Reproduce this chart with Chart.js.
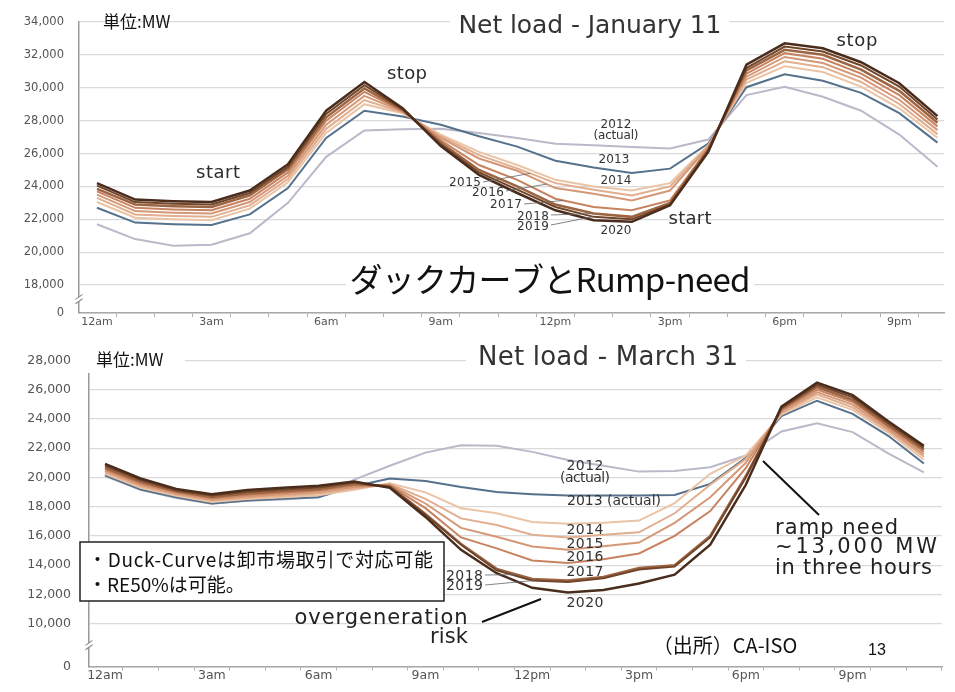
<!DOCTYPE html>
<html lang="ja">
<head>
<meta charset="utf-8">
<title>Net load</title>
<script src="https://cdn.jsdelivr.net/npm/chart.js@4.4.1/dist/chart.umd.min.js"></script>
<style>
  body { margin: 0; background: #fff; }
  #pagina { position: relative; width: 955px; height: 692px; overflow: hidden; }
  #pagina canvas { position: absolute; left: 0; }
  #graficoJan { top: 0; }
  #graficoMar { top: 335px; }
</style>
</head>
<body>
<div id="pagina">
  <canvas id="graficoJan" width="955" height="335"></canvas>
  <canvas id="graficoMar" width="955" height="357"></canvas>
</div>
<script>
const anos = ['2012', '2013', '2014', '2015', '2016', '2017', '2018', '2019', '2020'];
const coresAnos = ['#bab8c9', '#55718b', '#ebc4a6', '#e1ae8f', '#d59877', '#c7835f', '#9d6442', '#704529', '#4a2c1c'];
const larguras = [2, 2, 2, 2, 2, 2, 2.5, 2, 2.5];
const rotulosHoras = ['12am', '3am', '6am', '9am', '12pm', '3pm', '6pm', '9pm'];

const ticksJan = [0, 18000, 20000, 22000, 24000, 26000, 28000, 30000, 32000, 34000];
const ticksMar = [0, 10000, 12000, 14000, 16000, 18000, 20000, 22000, 24000, 26000, 28000];
// onde o "0" fica depois da quebra do eixo
const quebraJan = 16300;
const quebraMar = 7070;

// Net load - January 11 (12am .. 10pm)
const jan2012 = [21700, 20800, 20400, 20450, 21150, 23000, 25800, 27400, 27480, 27500, 27250, 26950, 26600, 26500, 26400, 26300, 26850, 29550, 30050, 29450, 28600, 27150, 25200];
const jan2013 = [22700, 21800, 21700, 21650, 22300, 23900, 26950, 28600, 28250, 27750, 27050, 26420, 25560, 25150, 24820, 25080, 26600, 30030, 30810, 30420, 29690, 28450, 26660];
const jan2014 = [23050, 22100, 22000, 21950, 22650, 24250, 27250, 29000, 28450, 27150, 26100, 25300, 24400, 24000, 23750, 24200, 26500, 30300, 31300, 30950, 30070, 28750, 26960];
const jan2015 = [23300, 22300, 22200, 22150, 22850, 24450, 27500, 29250, 28500, 27050, 25900, 25100, 24200, 23800, 23450, 24000, 26450, 30500, 31600, 31250, 30350, 29010, 27180];
const jan2016 = [23500, 22500, 22400, 22350, 23050, 24650, 27750, 29500, 28550, 26950, 25700, 24950, 23900, 23550, 23150, 23750, 26400, 30670, 31870, 31500, 30610, 29270, 27420];
const jan2017 = [23700, 22700, 22600, 22550, 23250, 24850, 28000, 29750, 28600, 26800, 25300, 24400, 23250, 22750, 22550, 23150, 26300, 30850, 32100, 31760, 30860, 29550, 27650];
const jan2018 = [23850, 22900, 22800, 22750, 23450, 25050, 28200, 29950, 28650, 26650, 25000, 24000, 22900, 22350, 22150, 23000, 26250, 31050, 32300, 32000, 31100, 29810, 27870];
const jan2019 = [24050, 23050, 22950, 22900, 23600, 25200, 28400, 30150, 28700, 26550, 24850, 23800, 22750, 22150, 22000, 22900, 26150, 31200, 32500, 32200, 31350, 30070, 28070];
const jan2020 = [24200, 23200, 23100, 23050, 23750, 25350, 28600, 30350, 28750, 26450, 24700, 23600, 22550, 21950, 21850, 22850, 26100, 31400, 32700, 32400, 31550, 30270, 28270];

// Net load - March 31 (12am .. 11pm)
const mar2012 = [20100, 19150, 18600, 18200, 18400, 18500, 18650, 19850, 20800, 21700, 22200, 22170, 21750, 21200, 20800, 20400, 20450, 20700, 21500, 23150, 23700, 23100, 21650, 20350];
const mar2013 = [20150, 19180, 18650, 18220, 18430, 18540, 18650, 19400, 19930, 19760, 19350, 19010, 18860, 18760, 18760, 18760, 18800, 19560, 21350, 24200, 25250, 24350, 22850, 20950];
const mar2014 = [20250, 19300, 18750, 18330, 18530, 18650, 18780, 19150, 19600, 18980, 17900, 17550, 16950, 16830, 16900, 17050, 18250, 20250, 21500, 24300, 25480, 24620, 23070, 21210];
const mar2015 = [20350, 19400, 18830, 18420, 18620, 18750, 18900, 19250, 19550, 18540, 17200, 16750, 16080, 15900, 16080, 16250, 17550, 19500, 21250, 24400, 25690, 24790, 23200, 21420];
const mar2016 = [20450, 19500, 18900, 18500, 18700, 18850, 19000, 19350, 19500, 18220, 16550, 15950, 15280, 15050, 15300, 15550, 16900, 18650, 21000, 24500, 25840, 24980, 23320, 21570];
const mar2017 = [20550, 19600, 18980, 18580, 18800, 18950, 19100, 19450, 19450, 17900, 15900, 15150, 14320, 14150, 14400, 14800, 16000, 17700, 20650, 24600, 26010, 25160, 23450, 21740];
const mar2018 = [20650, 19700, 19050, 18670, 18900, 19050, 19200, 19550, 19400, 17500, 15450, 13750, 13050, 12950, 13200, 13800, 14000, 16000, 20100, 24700, 26190, 25310, 23580, 21890];
const mar2019 = [20800, 19820, 19130, 18760, 19020, 19170, 19320, 19650, 19350, 17450, 15400, 13650, 12950, 12850, 13100, 13700, 13900, 15900, 20000, 24750, 26330, 25480, 23710, 22040];
const mar2020 = [20930, 19930, 19220, 18860, 19140, 19290, 19430, 19720, 19290, 17300, 15050, 13450, 12450, 12130, 12300, 12750, 13350, 15400, 19500, 24850, 26480, 25630, 23840, 22170];

const seriesJan = [jan2012, jan2013, jan2014, jan2015, jan2016, jan2017, jan2018, jan2019, jan2020];
const seriesMar = [mar2012, mar2013, mar2014, mar2015, mar2016, mar2017, mar2018, mar2019, mar2020];

function escrever(ctx, txt, x, y, o) {
    ctx.save();
    ctx.font = `${o.peso || 'normal'} ${o.tam}px ${o.fonte || '"DejaVu Sans"'}`;
    ctx.fillStyle = o.cor || '#2b2b2b';
    ctx.textAlign = o.al || 'left';
    ctx.textBaseline = 'middle';
    if (o.larg) {
        const sobra = o.larg - ctx.measureText(txt).width;
        const esp = sobra / Math.max(txt.length - 1, 1);
        ctx.letterSpacing = esp + 'px';
        if (ctx.textAlign === 'center') x += esp / 2;
        if (ctx.textAlign === 'right') x += esp;
    }
    ctx.fillText(txt, x, y);
    ctx.restore();
}

function caixa(ctx, x, y, w, h, borda) {
    ctx.save();
    ctx.fillStyle = '#fff';
    ctx.fillRect(x, y, w, h);
    if (borda) {
        ctx.strokeStyle = '#222';
        ctx.lineWidth = 1.5;
        ctx.strokeRect(x, y, w, h);
    }
    ctx.restore();
}

function linha(ctx, x1, y1, x2, y2, cor, larg) {
    ctx.save();
    ctx.strokeStyle = cor;
    ctx.lineWidth = larg;
    ctx.beginPath();
    ctx.moveTo(x1, y1);
    ctx.lineTo(x2, y2);
    ctx.stroke();
    ctx.restore();
}

// ponto da curva numa hora fracionada, para as linhas-guia dos rótulos
function pontoNaSerie(chart, serie, h) {
    const i = Math.floor(h);
    const v = serie[i] + (serie[i + 1] - serie[i]) * (h - i);
    return [chart.scales.x.getPixelForValue(h), chart.scales.y.getPixelForValue(v)];
}

function guia(chart, serie, de, h) {
    const [px, py] = pontoNaSerie(chart, serie, h);
    linha(chart.ctx, de[0], de[1], px, py, '#666', 0.8);
}

function quebraEixo(chart, quebra, primeiro) {
    const ctx = chart.ctx;
    const y = chart.scales.y;
    const x = chart.chartArea.left;
    const meio = (y.getPixelForValue(quebra) + y.getPixelForValue(primeiro)) / 2;
    ctx.save();
    ctx.fillStyle = '#fff';
    ctx.fillRect(x - 3, meio - 2, 6, 4);
    ctx.strokeStyle = '#8a8a8a';
    ctx.lineWidth = 1.1;
    [-2.2, 2.2].forEach(d => {
        ctx.beginPath();
        ctx.moveTo(x - 3.5, meio + d + 2.5);
        ctx.lineTo(x + 3.5, meio + d - 2.5);
        ctx.stroke();
    });
    ctx.restore();
}

function extrasJan(chart) {
    const ctx = chart.ctx;
    quebraEixo(chart, quebraJan, ticksJan[1]);

    caixa(ctx, 450, 5, 279, 36);
    escrever(ctx, 'Net load - January 11', 590, 26, { tam: 25, al: 'center', larg: 263, cor: '#333' });
    escrever(ctx, '単位:MW', 103, 22, { tam: 17, fonte: '"Noto Sans CJK JP"', cor: '#111' });

    escrever(ctx, 'start', 218, 173, { tam: 18, al: 'center', larg: 44 });
    escrever(ctx, 'stop', 407, 74, { tam: 18, al: 'center', larg: 40 });
    escrever(ctx, 'stop', 857, 41, { tam: 18, al: 'center', larg: 41 });
    escrever(ctx, 'start', 690, 219, { tam: 18, al: 'center', larg: 43 });

    const ano = { tam: 12, al: 'center', larg: 31, cor: '#333' };
    escrever(ctx, '2012', 616, 125, ano);
    escrever(ctx, '(actual)', 616, 136, { tam: 12, al: 'center', larg: 45, cor: '#333' });
    escrever(ctx, '2013', 614, 160, ano);
    escrever(ctx, '2014', 616, 181, ano);
    escrever(ctx, '2020', 616, 231, ano);

    const dir = { tam: 12, al: 'right', larg: 32, cor: '#333' };
    escrever(ctx, '2015', 481, 183, dir);
    escrever(ctx, '2016', 504, 193, dir);
    escrever(ctx, '2017', 522, 205, dir);
    escrever(ctx, '2018', 549, 217, dir);
    escrever(ctx, '2019', 549, 227, dir);
    guia(chart, jan2015, [483, 182], 11.34);
    guia(chart, jan2016, [506, 191], 11.77);
    guia(chart, jan2017, [524, 204], 12.21);
    guia(chart, jan2018, [551, 215], 12.99);
    guia(chart, jan2019, [551, 225], 12.98);

    caixa(ctx, 346, 260, 408, 38);
    escrever(ctx, 'ダックカーブとRump-need', 550, 279, { tam: 33, al: 'center', fonte: '"Noto Sans CJK JP"', larg: 401, cor: '#111' });
}

function extrasMar(chart) {
    const ctx = chart.ctx;
    quebraEixo(chart, quebraMar, ticksMar[1]);

    caixa(ctx, 78, 2, 107, 36);
    escrever(ctx, '単位:MW', 96, 25, { tam: 17, fonte: '"Noto Sans CJK JP"', cor: '#111' });
    caixa(ctx, 466, 2, 280, 38);
    escrever(ctx, 'Net load - March 31', 608, 23, { tam: 26, al: 'center', larg: 260, cor: '#333' });

    const ano = { tam: 14, al: 'center', larg: 37, cor: '#333' };
    escrever(ctx, '2012', 585, 131, ano);
    escrever(ctx, '(actual)', 585, 143, { tam: 14, al: 'center', larg: 50, cor: '#333' });
    escrever(ctx, '2013 (actual)', 567, 166, { tam: 14, larg: 94, cor: '#333' });
    escrever(ctx, '2014', 585, 195, ano);
    escrever(ctx, '2015', 585, 209, ano);
    escrever(ctx, '2016', 585, 222, ano);
    escrever(ctx, '2017', 585, 237, ano);
    escrever(ctx, '2020', 585, 268, ano);
    escrever(ctx, '2018', 483, 241, { tam: 14, al: 'right', larg: 37, cor: '#333' });
    escrever(ctx, '2019', 483, 251, { tam: 14, al: 'right', larg: 37, cor: '#333' });
    guia(chart, mar2018, [485, 240], 11.56);
    guia(chart, mar2019, [485, 250], 12.03);

    escrever(ctx, 'overgeneration', 381, 284, { tam: 21, al: 'center', larg: 173, cor: '#222' });
    escrever(ctx, 'risk', 468, 303, { tam: 21, al: 'right', larg: 38, cor: '#222' });
    linha(ctx, 482, 287, 541, 264, '#111', 2);

    escrever(ctx, 'ramp need', 775, 194, { tam: 21, larg: 123, cor: '#222' });
    escrever(ctx, '~13,000 MW', 775, 213, { tam: 21, larg: 162, cor: '#222' });
    escrever(ctx, 'in three hours', 775, 234, { tam: 21, larg: 157, cor: '#222' });
    linha(ctx, 763, 126, 819, 180, '#111', 2);

    caixa(ctx, 80, 207, 364, 59, true);
    escrever(ctx, '・Duck-Curveは卸市場取引で対応可能', 88, 225, { tam: 19, fonte: '"Noto Sans CJK JP"', larg: 345, cor: '#111' });
    escrever(ctx, '・RE50%は可能。', 88, 250, { tam: 19, fonte: '"Noto Sans CJK JP"', cor: '#111' });

    escrever(ctx, '（出所）CA-ISO', 725, 310, { tam: 20, al: 'center', fonte: '"Noto Sans CJK JP"', cor: '#111' });
    escrever(ctx, '13', 877, 316, { tam: 16, al: 'center', fonte: '"Liberation Sans"', cor: '#111' });
}

function criarGrafico(id, series, ticksY, quebra, eixo, extras) {
    const ctx = document.getElementById(id).getContext('2d');
    return new Chart(ctx, {
        type: 'line',
        data: {
            datasets: series.map((serie, i) => ({
                label: anos[i],
                data: serie.map((v, h) => ({ x: h, y: v })),
                borderColor: coresAnos[i],
                borderWidth: larguras[i],
                pointRadius: 0,
                tension: 0,
                order: series.length - i
            }))
        },
        options: {
            responsive: false,
            animation: false,
            events: [],
            layout: { padding: eixo.padding },
            plugins: { legend: { display: false }, tooltip: { enabled: false } },
            scales: {
                x: {
                    type: 'linear',
                    min: eixo.xMin,
                    max: eixo.xMax,
                    afterBuildTicks: s => {
                        s.ticks = [];
                        for (let v = 0.5; v <= s.max; v += 1) s.ticks.push({ value: v });
                    },
                    afterFit: s => { s.height = eixo.alturaX; },
                    ticks: {
                        autoSkip: false,
                        maxRotation: 0,
                        labelOffset: eixo.deslocRotulo,
                        padding: eixo.padRotuloX,
                        color: '#555',
                        font: { family: 'DejaVu Sans', size: eixo.fonteX },
                        callback: v => {
                            const h = v - 0.5;
                            return h % 3 === 0 ? rotulosHoras[h / 3] : '';
                        }
                    },
                    grid: { drawOnChartArea: false, drawTicks: true, tickLength: 4, color: '#b0b0b0' },
                    border: { color: '#a8a8a8', width: 1.5 }
                },
                y: {
                    min: quebra,
                    max: ticksY[ticksY.length - 1],
                    afterBuildTicks: s => {
                        s.ticks = ticksY.map(v => ({ value: v === 0 ? quebra : v }));
                    },
                    afterFit: s => { s.width = eixo.larguraY; },
                    ticks: {
                        padding: eixo.padRotuloY,
                        color: '#555',
                        font: { family: 'DejaVu Sans', size: eixo.fonteY },
                        callback: v => v === quebra ? '0' : v.toLocaleString('en-US')
                    },
                    grid: { color: '#dadada', lineWidth: 1.3, drawTicks: false },
                    border: { color: '#9a9a9a', width: 1.5 }
                }
            }
        },
        plugins: [{ id: 'extras', afterDraw: chart => extras(chart) }]
    });
}

criarGrafico('graficoJan', seriesJan, ticksJan, quebraJan, {
    xMin: -0.47, xMax: 22.17, deslocRotulo: -19.1, alturaX: 21, larguraY: 79,
    padRotuloX: -2, padRotuloY: 15, fonteX: 11, fonteY: 11.5,
    padding: { top: 18, right: 11, left: 0, bottom: 0 }
}, extrasJan);

criarGrafico('graficoMar', seriesMar, ticksMar, quebraMar, {
    xMin: -0.45, xMax: 23.51, deslocRotulo: -17.8, alturaX: 16, larguraY: 89,
    padRotuloX: -2, padRotuloY: 18, fonteX: 12.5, fonteY: 12.5,
    padding: { top: 14, right: 13, left: 0, bottom: 0 }
}, extrasMar);
</script>
</body>
</html>
